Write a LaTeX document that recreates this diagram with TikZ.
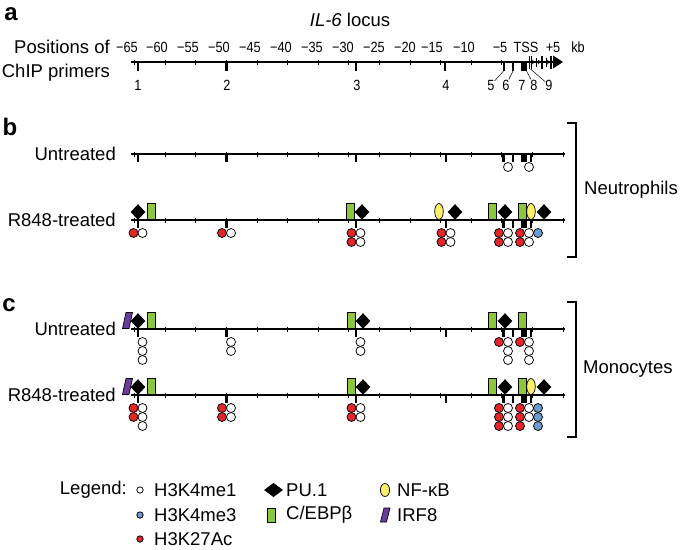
\documentclass[tikz,border=0pt]{standalone}
\usepackage{fontspec}
\setmainfont{Liberation Sans}
\newfontfamily\narrowsans{Liberation Sans}[FakeStretch=0.86]
\definecolor{acred}{HTML}{E3262A}
\definecolor{meblue}{HTML}{6C9BD2}
\definecolor{cebpgreen}{HTML}{8CC63E}
\definecolor{nfkbyellow}{HTML}{FBF06B}
\definecolor{irfpurple}{HTML}{6A3D9A}

\begin{document}
\begin{tikzpicture}[x=1pt,y=-1pt,line join=miter,
  ink/.style={draw=black,line width=.7pt},
  locusline/.style={draw=black,line width=1.3pt},
  primer/.style={draw=black,line width=2.7pt},
  minortick/.style={draw=black,line width=.6pt},
  histone/.style={draw=black,line width=.75pt},
  biglab/.style={font=\fontsize{18.5}{24}\selectfont,inner sep=0pt},
  scalelab/.style={font=\narrowsans\fontsize{14.8}{16}\selectfont,inner sep=0pt},
  panellab/.style={font=\fontsize{24}{25}\selectfont\bfseries,inner sep=0pt}]
\useasboundingbox[fill=white] (0,0) rectangle (685,549);

% Panel a: primer map.
\node[panellab] (pa) at (11,14) {a};
\node[biglab] (locus) at (350,20) {\textit{IL-6} locus};
\node[biglab,align=right,anchor=east] (primlab) at (110,61) {Positions of\\ChIP primers};
\foreach \x/\t in {127/−65,157/−60,188/−55,219/−50,250/−45,281/−40,312/−35,
  343/−30,374/−25,405/−20,432/−15,464/−10,500/−5,526/TSS,553/+5,578/kb}
  \node[scalelab] (sc\x) at (\x,47) {\t};
\draw[locusline] (131,62)--(555,62);
\foreach \t in {134.4,165,...,510}
  \draw[minortick] (\t,59.5)--(\t,64.5);
\foreach \x in {138,226.5,356,445,504,513}
  \draw[primer] (\x,62)--(\x,71);
\fill (521,62) rectangle (527,71);
% gene body after TSS
\draw[ink,line width=.6pt] (528.8,56)--(528.8,69) (530.8,56)--(530.8,69);
\draw[ink,line width=.8pt] (536,57.5)--(536,66.5) (546,57.5)--(546,66.5);
\draw[primer,line width=2pt] (541.5,55.5)--(541.5,69) (550.5,55.5)--(550.5,69);
\foreach \x in {533.2,539,548.2}
  \draw[ink,line width=.6pt] (\x-1.2,59.8)--(\x+1.2,62)--(\x-1.2,64.2);
\fill (553,55.5)--(563,62)--(553,68.5)--cycle;
\foreach \x/\n in {138/1,227/2,357/3,446/4,491/5,506/6,522/7,534/8,549/9}
  \node[scalelab] (n\n) at (\x,85) {\n};
\coordinate (p5) at (503.5,71);
\coordinate (p6) at (513,71);
\coordinate (p8) at (526.5,71);
\coordinate (p9) at (530.5,69);
\draw[ink,line width=.5pt] (n5)--(p5) (n6)--(p6) (n8)--(p8) (n9)--(p9);

% Panels b and c: the four tracks.
\node[panellab] (pb) at (10,127) {b};
\node[panellab] (pc) at (9,305) {c};
\node[biglab,anchor=east] (bun) at (116,154) {Untreated};
\node[biglab,anchor=east] (btr) at (116,220) {R848-treated};
\node[biglab,anchor=east] (cun) at (116,329) {Untreated};
\node[biglab,anchor=east] (ctr) at (116,395) {R848-treated};
\foreach \ya in {154,220,329,395}{
  \draw[locusline] (131,\ya)--(565,\ya);
  \foreach \t in {134.4,165,...,564}
    \draw[minortick] (\t,\ya-2.5)--(\t,\ya+2.5);
  \foreach \x in {138,226.5,356,446,503.5,513,531}
    \draw[primer] (\x,\ya)--(\x,\ya+7.5);
  \fill (521,\ya) rectangle (527,\ya+7.5);
}

% factors bound (sitting on the line)
\foreach \x/\ya in {138/220,362/220,455/220,505/220,544/220,
  138/329,363/329,505/329,138/395,363/395,505/395,544/395}
  \fill (\x-7.3,\ya-8)--(\x,\ya-15.8)--(\x+7.3,\ya-8)--(\x,\ya-0.2)--cycle;
\foreach \x/\ya in {151/220,350/220,492/220,522/220,
  151/329,351/329,492/329,522/329,151/395,351/395,492/395,522/395}
  \draw[ink,fill=cebpgreen] (\x-4,\ya-16.5) rectangle (\x+4,\ya-0.5);
\foreach \x/\ya in {439/220,531/220,531/395}
  \draw[ink,fill=nfkbyellow] (\x,\ya-8.5) ellipse (4.3 and 8);
\foreach \ya in {329,395}
  \draw[ink,fill=irfpurple] (122.5,\ya-0.5)--(126,\ya-16.5)--(132.5,\ya-16.5)--(129,\ya-0.5)--cycle;

% histone marks below the line
\foreach \x/\y/\c in {508/167/white,529/167/white,
  133.5/233/acred,142.5/233/white,222/233/acred,231/233/white,
  351.5/233/acred,351.5/242/acred,360.5/233/white,360.5/242/white,
  441.5/233/acred,441.5/242/acred,450.5/233/white,450.5/242/white,
  499/233/acred,499/242/acred,508/233/white,508/242/white,
  520/233/acred,520/242/acred,529/233/white,529/242/white,538/233/meblue,
  142.5/342/white,142.5/351/white,142.5/360/white,231/342/white,231/351/white,
  360.5/342/white,360.5/351/white,499/342/acred,508/342/white,508/351/white,
  508/360/white,520/342/acred,529/342/white,529/351/white,529/360/white,
  133.5/408/acred,133.5/417/acred,142.5/408/white,142.5/417/white,142.5/426/white,
  222/408/acred,222/417/acred,231/408/white,231/417/white,
  351.5/408/acred,351.5/417/acred,360.5/408/white,360.5/417/white,
  499/408/acred,499/417/acred,499/426/acred,508/408/white,508/417/white,508/426/white,
  520/408/acred,520/417/acred,520/426/acred,529/408/white,529/417/white,
  538/408/meblue,538/417/meblue,538/426/meblue}
  \draw[histone,fill=\c] (\x,\y) circle (4.5);

% cell type brackets
\draw[line width=2pt] (567,123)--(576,123)--(576,257)--(567,257);
\node[biglab,anchor=west] (neut) at (584,190) {Neutrophils};
\draw[line width=2pt] (567,302)--(576,302)--(576,437)--(567,437);
\node[biglab,anchor=west] (mono) at (583,369) {Monocytes};

% Legend.
\node[biglab,anchor=east] (leg) at (127,490) {Legend:};
\draw[histone,fill=white] (140,490) circle (3.2);
\draw[histone,fill=meblue] (140,515) circle (3.2);
\draw[histone,fill=acred] (140,539) circle (3.2);
\node[biglab,anchor=west] (lme1) at (154,490) {H3K4me1};
\node[biglab,anchor=west] (lme3) at (154,515) {H3K4me3};
\node[biglab,anchor=west] (lac) at (154,539) {H3K27Ac};
\fill (264,490)--(273.5,483)--(283,490)--(273.5,497)--cycle;
\draw[ink,fill=cebpgreen] (267.5,508) rectangle (275,522);
\node[biglab,anchor=west] (lpu) at (286,490) {PU.1};
\node[biglab,anchor=west] (lcebp) at (286,515) {C/EBPβ};
\draw[ink,fill=nfkbyellow] (385,490) ellipse (4.6 and 6.5);
\draw[ink,fill=irfpurple] (380.5,522)--(384,508)--(390,508)--(386.5,522)--cycle;
\node[biglab,anchor=west] (lnf) at (397,490) {NF-κB};
\node[biglab,anchor=west] (lirf) at (397,515) {IRF8};
\end{tikzpicture}
\end{document}
